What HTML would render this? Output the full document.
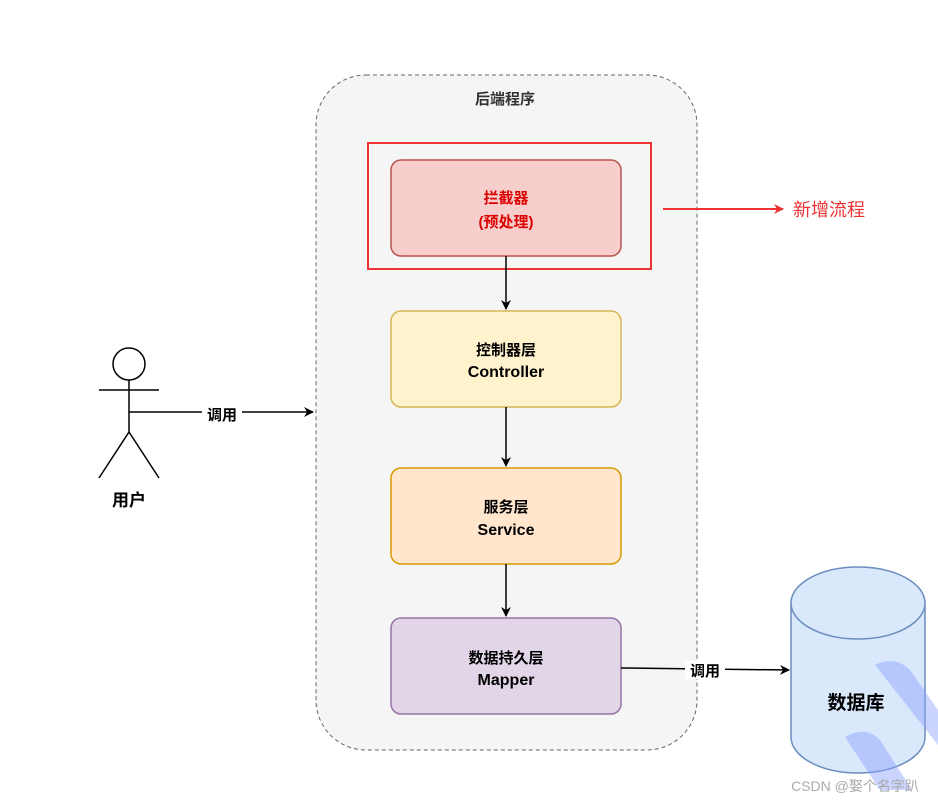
<!DOCTYPE html>
<html><head><meta charset="utf-8"><style>
body{margin:0;background:#fff;width:938px;height:801px;overflow:hidden}
svg text{font-family:"Liberation Sans","Noto Sans CJK SC",sans-serif}
</style></head><body>
<svg width="938" height="801" xmlns="http://www.w3.org/2000/svg">
<defs><marker id="a" markerWidth="10" markerHeight="10" refX="9" refY="5" orient="auto" markerUnits="userSpaceOnUse"><path d="M0,0 L10,5 L0,10 L3,5 Z" fill="#000"/></marker>
<marker id="r" markerWidth="10" markerHeight="10" refX="9" refY="5" orient="auto" markerUnits="userSpaceOnUse"><path d="M0,0 L10,5 L0,10 L3,5 Z" fill="#e33"/></marker></defs>
<rect x="316" y="75" width="381" height="675" rx="50" fill="#f5f5f5" stroke="#666" stroke-dasharray="4 3"/>
<text x="505" y="104" font-size="15" font-weight="bold" text-anchor="middle" fill="#333">后端程序</text>
<rect x="368" y="143" width="283" height="126" fill="none" stroke="#e33" stroke-width="2"/>
<rect x="391" y="160" width="230" height="96" rx="10" fill="#f8cecc" stroke="#b85450" stroke-width="1.5"/>
<text x="506" y="203" font-size="15" font-weight="bold" text-anchor="middle" fill="#d00">拦截器</text>
<text x="506" y="227" font-size="15" font-weight="bold" text-anchor="middle" fill="#d00">(预处理)</text>
<rect x="391" y="311" width="230" height="96" rx="10" fill="#fff2cc" stroke="#d6b656" stroke-width="1.5"/>
<text x="506" y="355" font-size="15" font-weight="bold" text-anchor="middle">控制器层</text>
<text x="506" y="377" font-size="16" font-weight="bold" text-anchor="middle">Controller</text>
<rect x="391" y="468" width="230" height="96" rx="10" fill="#ffe6cc" stroke="#d79b00" stroke-width="1.5"/>
<text x="506" y="512" font-size="15" font-weight="bold" text-anchor="middle">服务层</text>
<text x="506" y="535" font-size="16" font-weight="bold" text-anchor="middle">Service</text>
<rect x="391" y="618" width="230" height="96" rx="10" fill="#e1d5e7" stroke="#9673a6" stroke-width="1.5"/>
<text x="506" y="663" font-size="15" font-weight="bold" text-anchor="middle">数据持久层</text>
<text x="506" y="685" font-size="16" font-weight="bold" text-anchor="middle">Mapper</text>
<g stroke="#000" stroke-width="1.5" fill="none">
<line x1="506" y1="256" x2="506" y2="309" marker-end="url(#a)"/>
<line x1="506" y1="407" x2="506" y2="466" marker-end="url(#a)"/>
<line x1="506" y1="564" x2="506" y2="616" marker-end="url(#a)"/>
<line x1="129" y1="412" x2="313" y2="412" marker-end="url(#a)"/>
<line x1="621" y1="668" x2="789" y2="670" marker-end="url(#a)"/>
<circle cx="129" cy="364" r="16"/>
<line x1="129" y1="380" x2="129" y2="432"/>
<line x1="99" y1="390" x2="159" y2="390"/>
<line x1="129" y1="432" x2="99" y2="478"/>
<line x1="129" y1="432" x2="159" y2="478"/>
</g>
<rect x="202" y="404" width="40" height="18" fill="#fff"/>
<text x="222" y="420" font-size="15" font-weight="bold" text-anchor="middle">调用</text>
<rect x="685" y="661" width="40" height="18" fill="#fff"/>
<text x="705" y="676" font-size="15" font-weight="bold" text-anchor="middle">调用</text>
<text x="129" y="506" font-size="17" font-weight="bold" text-anchor="middle">用户</text>
<line x1="663" y1="209" x2="783" y2="209" stroke="#e33" stroke-width="2" marker-end="url(#r)"/>
<text x="793" y="216" font-size="18" fill="#e33">新增流程</text>
<path d="M791,603 L791,737 A67,36 0 0 0 925,737 L925,603" fill="#dae8fc" stroke="#6c8ebf" stroke-width="1.5"/>
<ellipse cx="858" cy="603" rx="67" ry="36" fill="#dae8fc" stroke="#6c8ebf" stroke-width="1.5"/>
<text x="856" y="709" font-size="19" font-weight="bold" text-anchor="middle">数据库</text>
<path d="M875,665 Q895,655 910,670 L938,710 L938,745 Z" fill="#8aa0ff" opacity="0.45"/>
<path d="M845,737 Q865,725 880,740 L912,790 L880,790 Z" fill="#8aa0ff" opacity="0.45"/>
<text x="855" y="791" font-size="14" fill="#aaa" text-anchor="middle">CSDN @娶个名字趴</text>
</svg>
</body></html>
